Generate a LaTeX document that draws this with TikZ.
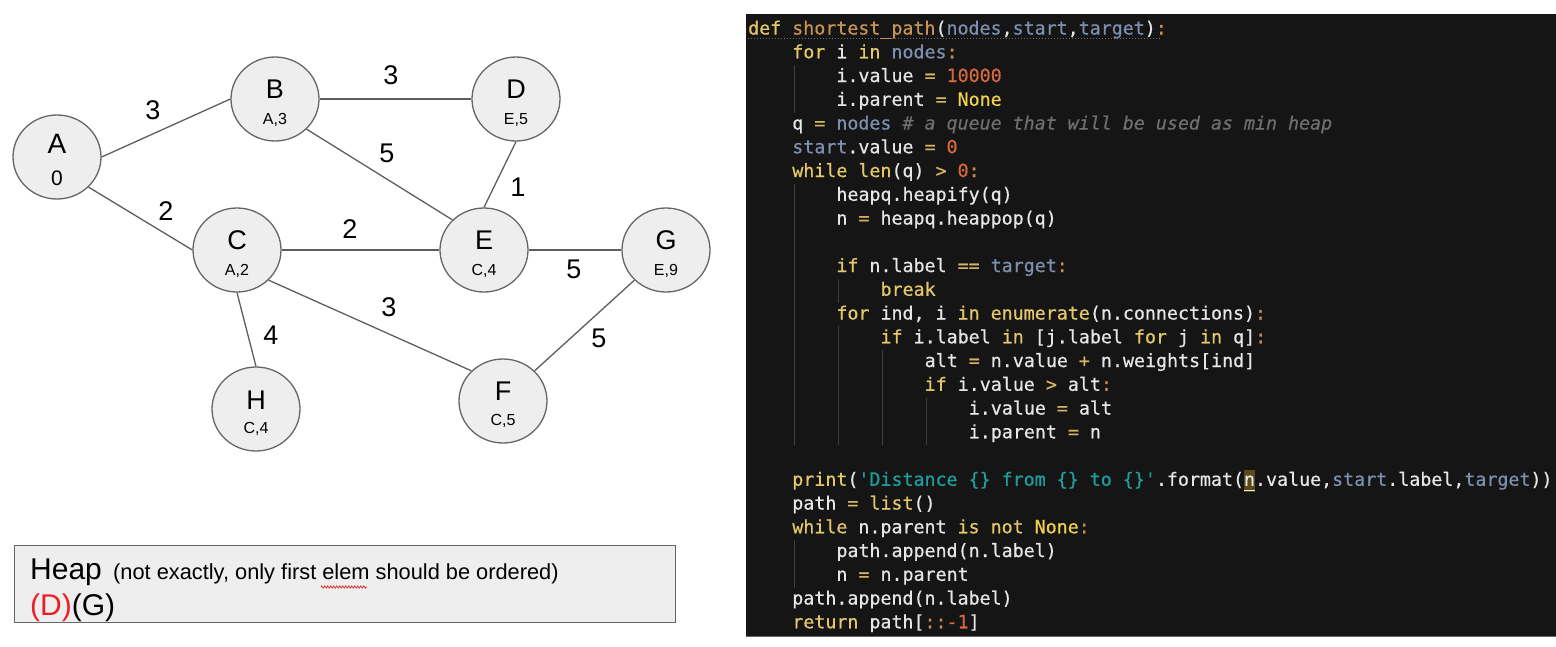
\documentclass[tikz,border=0pt]{standalone}
\usepackage{fontspec}
\setmainfont{Liberation Sans}
\newfontfamily\codefont{DejaVu Sans Mono}[FakeBold=0.6]
\usetikzlibrary{shapes.geometric,decorations.pathmorphing}
\definecolor{nodefill}{HTML}{EEEEEE}
\definecolor{nodeline}{HTML}{666666}
\definecolor{edgecol}{HTML}{5E5E5E}
\definecolor{panelbg}{HTML}{151515}
\definecolor{cfg}{HTML}{E6E6E6}
\definecolor{ckw}{HTML}{E3C76A}
\definecolor{cnone}{HTML}{F0D04E}
\definecolor{cop}{HTML}{D6B466}
\definecolor{cnum}{HTML}{D9683F}
\definecolor{ccol}{HTML}{D08A4A}
\definecolor{cfn}{HTML}{C69355}
\definecolor{cpar}{HTML}{7D8FAE}
\definecolor{ccom}{HTML}{6E6E6E}
\definecolor{cstr}{HTML}{1F9E9E}
\definecolor{guide}{HTML}{3E3E3E}
\definecolor{hlbox}{HTML}{5A4A1A}
\definecolor{heapred}{HTML}{EE1C24}
\newcommand{\K}[1]{\textcolor{ckw}{#1}}
\newcommand{\Nn}[1]{\textcolor{cnone}{#1}}
\newcommand{\Op}[1]{\textcolor{cop}{#1}}
\newcommand{\Nu}[1]{\textcolor{cnum}{#1}}
\newcommand{\Co}{\textcolor{ccol}{:}}
\newcommand{\Pa}[1]{\textcolor{cpar}{#1}}
\newcommand{\cln}[4]{\node[codeline] (#1) at ({748+#3*11.03},{34.5+(#2-1)*23.75}) {#4};}
\newcommand{\gd}[3]{\draw[guideline] ({750+#1*11.03},{29.5+(#2-1)*23.75-12}) -- ({750+#1*11.03},{29.5+(#3-1)*23.75+12});}
\tikzset{
  gnode/.style={ellipse, draw=nodeline, fill=nodefill, line width=1.3pt, minimum width=88pt, minimum height=84pt, inner sep=0pt},
  edge/.style={draw=edgecol, line width=1.3pt},
  bigl/.style={anchor=base, inner sep=0pt, font=\fontsize{27}{27}\selectfont},
  smalll/.style={anchor=base, inner sep=0pt, font=\fontsize{16}{16}\selectfont},
  wlabel/.style={anchor=center, inner sep=0pt, font=\fontsize{27}{27}\selectfont},
  codeline/.style={anchor=base west, inner sep=0pt, text=cfg, font=\codefont\fontsize{18.3}{20}\selectfont},
  guideline/.style={draw=guide, line width=1pt},
}
\begin{document}
\begin{tikzpicture}[x=1pt,y=-1pt]
\useasboundingbox (0,0) rectangle (1556,646);
\fill[white] (0,0) rectangle (1556,646);
% ---------- graph ----------
\node[gnode] (A) at (57,157) {};
\node[gnode] (B) at (275,99) {};
\node[gnode] (C) at (237,250) {};
\node[gnode] (D) at (516,99) {};
\node[gnode] (E) at (484,250) {};
\node[gnode] (G) at (666,250) {};
\node[gnode] (F) at (503,401) {};
\node[gnode] (H) at (256,409) {};
\draw[edge] (A.east) -- (B.west);
\draw[edge] (A.south east) -- (C.west);
\draw[edge] (B.east) -- (D.west);
\draw[edge] (B.south east) -- (E.north west);
\draw[edge] (D.south) -- (E.north);
\draw[edge] (C.east) -- (E.west);
\draw[edge] (E.east) -- (G.west);
\draw[edge] (C.south east) -- (F.north west);
\draw[edge] (C.south) -- (H.north);
\draw[edge] (F.north east) -- (G.south west);
\node[bigl, font=\fontsize{28}{28}\selectfont] (Al) at (57,153) {A};
\node[smalll, font=\fontsize{21}{21}\selectfont] (Av) at (57,185) {0};
\node[bigl] (Bl) at (275,98) {B};
\node[smalll] (Bv) at (275,124) {A,3};
\node[bigl] (Cl) at (237,249) {C};
\node[smalll] (Cv) at (237,275) {A,2};
\node[bigl] (Dl) at (516,98) {D};
\node[smalll] (Dv) at (516,124) {E,5};
\node[bigl] (El) at (484,249) {E};
\node[smalll] (Ev) at (484,275) {C,4};
\node[bigl] (Gl) at (666,249) {G};
\node[smalll] (Gv) at (666,275) {E,9};
\node[bigl] (Fl) at (503,400) {F};
\node[smalll] (Fv) at (503,425) {C,5};
\node[bigl] (Hl) at (256,409) {H};
\node[smalll] (Hv) at (256,433) {C,4};
\node[wlabel] (wAB) at (153,110) {3};
\node[wlabel] (wAC) at (166,211) {2};
\node[wlabel] (wBD) at (391,75) {3};
\node[wlabel] (wBE) at (387,153) {5};
\node[wlabel] (wDE) at (518,187) {1};
\node[wlabel] (wCE) at (350,229) {2};
\node[wlabel] (wEG) at (574,269) {5};
\node[wlabel] (wCF) at (389,307) {3};
\node[wlabel] (wFG) at (599,338) {5};
\node[wlabel] (wCH) at (271,335) {4};
% ---------- heap box ----------
\node[draw=nodeline, fill=nodefill, line width=1.3pt, minimum width=661pt, minimum height=77pt, inner sep=0pt, anchor=north west] (heap) at (14,545) {};
\node[anchor=base west, inner sep=0pt, font=\fontsize{30}{30}\selectfont] (heapt) at (30,579) {Heap};
\node[anchor=base west, inner sep=0pt, font=\fontsize{21.8}{22}\selectfont] (heapn) at (113,579) {(not exactly, only first elem should be ordered)};
\node[anchor=base west, inner sep=0pt, font=\fontsize{30}{30}\selectfont] (heapq) at (30,615) {\textcolor{heapred}{(D)}(G)};
\draw[heapred, line width=0.6pt, decorate, decoration={zigzag, amplitude=1.2pt, segment length=3pt}] (321,587) -- (367,587);
% ---------- code panel ----------
\fill[panelbg] (746,14) rectangle (1556,636);
\draw[draw=nodeline, line width=1pt] (746,636) -- (1556,636);
\gd{4}{3}{4}
\gd{4}{8}{18}
\gd{8}{12}{12}
\gd{8}{14}{18}
\gd{12}{15}{18}
\gd{16}{17}{18}
\gd{4}{23}{24}
\fill[hlbox] ({748+45*11.03},{486-16}) rectangle ({748+46*11.03},{486+6});
\draw[cfg, line width=1pt] ({748+45*11.03},{486+4}) -- ({748+46*11.03},{486+4});
\draw[ccom, line width=1pt, dotted] (748,38.5) -- (1160,38.5);
\cln{L1}{1}{0}{\K{def} \textcolor{cfn}{shortest\_path}(\Pa{nodes},\Pa{start},\Pa{target})\Co}
\cln{L2}{2}{4}{\K{for} i \K{in} \Pa{nodes}\Co}
\cln{L3}{3}{8}{i.value \Op{=} \Nu{10000}}
\cln{L4}{4}{8}{i.parent \Op{=} \Nn{None}}
\cln{L5}{5}{4}{q \Op{=} \Pa{nodes} \textcolor{ccom}{\itshape \# a queue that will be used as min heap}}
\cln{L6}{6}{4}{\Pa{start}.value \Op{=} \Nu{0}}
\cln{L7}{7}{4}{\K{while} \K{len}(q) \Op{>} \Nu{0}\Co}
\cln{L8}{8}{8}{heapq.heapify(q)}
\cln{L9}{9}{8}{n \Op{=} heapq.heappop(q)}
\cln{L11}{11}{8}{\K{if} n.label \Op{==} \Pa{target}\Co}
\cln{L12}{12}{12}{\K{break}}
\cln{L13}{13}{8}{\K{for} ind, i \K{in} \K{enumerate}(n.connections)\Co}
\cln{L14}{14}{12}{\K{if} i.label \K{in} [j.label \K{for} j \K{in} q]\Co}
\cln{L15}{15}{16}{alt \Op{=} n.value \Op{+} n.weights[ind]}
\cln{L16}{16}{16}{\K{if} i.value \Op{>} alt\Co}
\cln{L17}{17}{20}{i.value \Op{=} alt}
\cln{L18}{18}{20}{i.parent \Op{=} n}
\cln{L20}{20}{4}{\K{print}(\textcolor{cstr}{\textquotesingle Distance \{\} from \{\} to \{\}\textquotesingle}.format(n.value,\Pa{start}.label,\Pa{target}))}
\cln{L21}{21}{4}{path \Op{=} \K{list}()}
\cln{L22}{22}{4}{\K{while} n.parent \K{is} \K{not} \Nn{None}\Co}
\cln{L23}{23}{8}{path.append(n.label)}
\cln{L24}{24}{8}{n \Op{=} n.parent}
\cln{L25}{25}{4}{path.append(n.label)}
\cln{L26}{26}{4}{\K{return} path[\textcolor{ccol}{::}\Nu{-1}]}
\end{tikzpicture}
\end{document}
